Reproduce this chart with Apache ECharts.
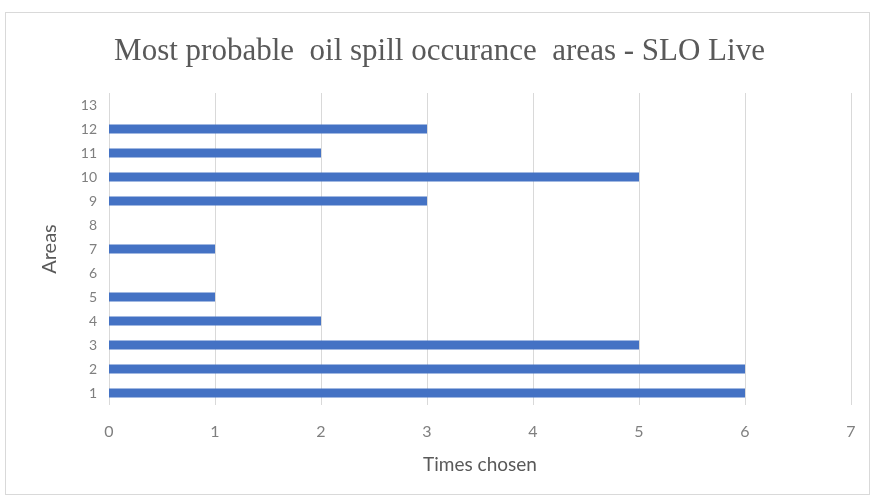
<!DOCTYPE html>
<html>
<head>
<meta charset="utf-8">
<script src="https://cdn.jsdelivr.net/npm/echarts@6/dist/echarts.min.js"></script>
<style>
  html, body { margin: 0; padding: 0; background: #fff; }
  #frame { position: absolute; left: 5px; top: 12px; width: 865px; height: 483px; border: 1px solid #d9d9d9; box-sizing: border-box; }
  #chart { width: 879px; height: 501px; }
</style>
</head>
<body>
<div id="frame"></div>
<div id="chart"></div>
<script>
// Area numbers along the vertical axis
const areas = ['1','2','3','4','5','6','7','8','9','10','11','12','13'];
// How many times each area was chosen
const timesChosen = [6, 6, 5, 2, 1, 0, 1, 0, 3, 5, 2, 3, 0];
// Horizontal axis range
const xTicks = [0, 1, 2, 3, 4, 5, 6, 7];

const chart = echarts.init(document.getElementById('chart'));
const labelFont = 'Lato, "Open Sans", sans-serif';
chart.setOption({
  backgroundColor: 'transparent',
  animation: false,
  title: {
    text: 'Most probable  oil spill occurance  areas - SLO Live',
    left: 'center',
    top: 31,
    textStyle: { fontFamily: '"Liberation Serif", serif', fontSize: 31, fontWeight: 'normal', color: '#595959' }
  },
  grid: { left: 109, right: 28, top: 93, bottom: 96 },
  xAxis: {
    type: 'value',
    min: xTicks[0],
    max: xTicks[xTicks.length - 1],
    interval: 1,
    name: 'Times chosen',
    nameLocation: 'middle',
    nameGap: 50,
    nameTextStyle: { fontFamily: labelFont, fontSize: 19, color: '#595959' },
    axisLine: { show: false },
    axisTick: { show: false },
    axisLabel: { fontFamily: labelFont, fontSize: 16, color: '#7f7f7f', margin: 19 },
    splitLine: { show: true, lineStyle: { color: '#d9d9d9', width: 1 } }
  },
  yAxis: {
    type: 'category',
    data: areas,
    name: 'Areas',
    nameLocation: 'middle',
    nameGap: 49,
    nameTextStyle: { fontFamily: labelFont, fontSize: 20, color: '#595959' },
    axisLine: { show: false },
    axisTick: { show: false },
    axisLabel: { fontFamily: labelFont, fontSize: 14, color: '#7f7f7f', margin: 12 },
    splitLine: { show: false }
  },
  series: [{
    type: 'bar',
    data: timesChosen,
    barWidth: 9,
    itemStyle: { color: '#4472c4' }
  }]
});
</script>
</body>
</html>
